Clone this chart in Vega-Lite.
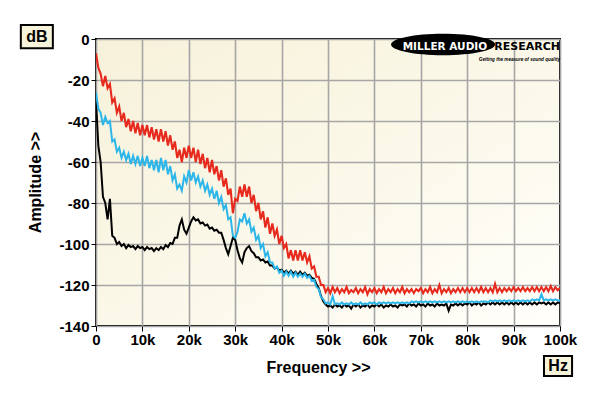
{
"$schema": "https://vega.github.io/schema/vega-lite/v6.json",
"width": 464, "height": 287,
"autosize": {"type": "none"},
"padding": {"left": 96, "top": 39, "right": 40, "bottom": 70},
"background": "white",
"view": {"fill": {"gradient": "linear", "x1": 0, "y1": 0, "x2": 1, "y2": 1, "stops": [{"offset": 0, "color": "#f7f1d9"}, {"offset": 0.5, "color": "#fbf8e9"}, {"offset": 1, "color": "#fffefa"}]}, "stroke": "black", "strokeWidth": 2},
"config": {
  "font": "Liberation Sans",
  "axis": {"labelFont": "Liberation Sans", "labelFontSize": 15, "labelFontWeight": "bold", "labelColor": "black", "titleFont": "Liberation Sans", "titleFontSize": 16, "titleFontWeight": "bold", "titleColor": "black", "tickColor": "black", "tickSize": 5, "tickWidth": 1, "domain": false, "gridColor": "#a6a6a6", "gridWidth": 1.6, "gridOpacity": 1, "labelFlush": false, "labelOverlap": false}
},
"data": {"values": [
{"f":0,"r":-7,"c":-26,"b":-30},
{"f":0.5,"r":-14,"c":-34,"b":-52},
{"f":1,"r":-17,"c":-36,"b":-60},
{"f":1.5,"r":-23,"c":-42,"b":-77},
{"f":2,"r":-18,"c":-38,"b":-80},
{"f":2.5,"r":-24,"c":-41,"b":-88},
{"f":3,"r":-22,"c":-40,"b":-78},
{"f":3.5,"r":-31,"c":-50,"b":-96},
{"f":4,"r":-29,"c":-49,"b":-97},
{"f":4.5,"r":-36,"c":-55,"b":-100},
{"f":5,"r":-33,"c":-53,"b":-99},
{"f":5.5,"r":-40,"c":-58,"b":-101},
{"f":6,"r":-36,"c":-55,"b":-100},
{"f":6.5,"r":-43,"c":-59,"b":-102},
{"f":7,"r":-39,"c":-56,"b":-100.5},
{"f":7.5,"r":-45,"c":-61,"b":-101.5},
{"f":8,"r":-40,"c":-57,"b":-101},
{"f":8.5,"r":-46,"c":-61,"b":-102.5},
{"f":9,"r":-41,"c":-57,"b":-101},
{"f":9.5,"r":-47,"c":-62,"b":-102},
{"f":10,"r":-42,"c":-58,"b":-101.5},
{"f":10.5,"r":-47,"c":-62,"b":-103},
{"f":11,"r":-42,"c":-57,"b":-101.5},
{"f":11.5,"r":-48,"c":-63,"b":-102.5},
{"f":12,"r":-43,"c":-59,"b":-102},
{"f":12.5,"r":-49,"c":-64,"b":-103.5},
{"f":13,"r":-44,"c":-59,"b":-102},
{"f":13.5,"r":-50,"c":-65,"b":-103},
{"f":14,"r":-44,"c":-58,"b":-101.5},
{"f":14.5,"r":-50,"c":-64,"b":-102.5},
{"f":15,"r":-45,"c":-59,"b":-100.5},
{"f":15.5,"r":-52,"c":-66,"b":-101.5},
{"f":16,"r":-47,"c":-62,"b":-99.5},
{"f":16.5,"r":-54,"c":-69,"b":-100},
{"f":17,"r":-50,"c":-66,"b":-97},
{"f":17.5,"r":-58,"c":-73,"b":-97},
{"f":18,"r":-54,"c":-71,"b":-91},
{"f":18.5,"r":-60,"c":-74,"b":-88},
{"f":19,"r":-53,"c":-67,"b":-93},
{"f":19.5,"r":-58,"c":-70,"b":-95},
{"f":20,"r":-52,"c":-64,"b":-92},
{"f":20.5,"r":-58,"c":-69,"b":-89},
{"f":21,"r":-53,"c":-65,"b":-87},
{"f":21.5,"r":-60,"c":-70,"b":-88.5},
{"f":22,"r":-54,"c":-67,"b":-88},
{"f":22.5,"r":-61,"c":-72,"b":-90},
{"f":23,"r":-56,"c":-69,"b":-89.5},
{"f":23.5,"r":-63,"c":-74,"b":-91},
{"f":24,"r":-58,"c":-71,"b":-90.5},
{"f":24.5,"r":-65,"c":-76,"b":-92.5},
{"f":25,"r":-59,"c":-73,"b":-92},
{"f":25.5,"r":-66,"c":-78,"b":-93.5},
{"f":26,"r":-62,"c":-74,"b":-93},
{"f":26.5,"r":-69,"c":-80,"b":-94.5},
{"f":27,"r":-64,"c":-77,"b":-94.5},
{"f":27.5,"r":-72,"c":-83,"b":-98},
{"f":28,"r":-68,"c":-81,"b":-102},
{"f":28.5,"r":-76,"c":-88,"b":-105},
{"f":29,"r":-73,"c":-87,"b":-101},
{"f":29.5,"r":-85,"c":-96,"b":-97},
{"f":30,"r":-78,"c":-97,"b":-98},
{"f":30.5,"r":-79,"c":-94,"b":-103},
{"f":31,"r":-72,"c":-88,"b":-107},
{"f":31.5,"r":-77,"c":-89,"b":-109},
{"f":32,"r":-71,"c":-85,"b":-104},
{"f":32.5,"r":-77,"c":-90,"b":-102},
{"f":33,"r":-72,"c":-88,"b":-101},
{"f":33.5,"r":-80,"c":-94,"b":-103.5},
{"f":34,"r":-76,"c":-92,"b":-104.5},
{"f":34.5,"r":-84,"c":-98,"b":-106.5},
{"f":35,"r":-80,"c":-96,"b":-106.5},
{"f":35.5,"r":-88,"c":-102,"b":-108},
{"f":36,"r":-84,"c":-100,"b":-107.5},
{"f":36.5,"r":-92,"c":-106,"b":-109},
{"f":37,"r":-87,"c":-104,"b":-108.5},
{"f":37.5,"r":-95,"c":-109,"b":-110.5},
{"f":38,"r":-90,"c":-109,"b":-110.5},
{"f":38.5,"r":-96,"c":-112,"b":-112},
{"f":39,"r":-93,"c":-111,"b":-111.5},
{"f":39.5,"r":-100,"c":-114,"b":-113},
{"f":40,"r":-96,"c":-113,"b":-112.5},
{"f":40.5,"r":-102,"c":-115.5,"b":-114},
{"f":41,"r":-100,"c":-113.5,"b":-113},
{"f":41.5,"r":-107,"c":-115.5,"b":-114.5},
{"f":42,"r":-103,"c":-113.5,"b":-113},
{"f":42.5,"r":-108,"c":-116,"b":-114.5},
{"f":43,"r":-103,"c":-114,"b":-113.5},
{"f":43.5,"r":-108,"c":-116,"b":-115},
{"f":44,"r":-103,"c":-114.5,"b":-113.5},
{"f":44.5,"r":-108,"c":-116,"b":-115},
{"f":45,"r":-104,"c":-114.5,"b":-114},
{"f":45.5,"r":-109,"c":-116.5,"b":-115.5},
{"f":46,"r":-106,"c":-115.5,"b":-115},
{"f":46.5,"r":-112,"c":-118,"b":-116.5},
{"f":47,"r":-111,"c":-117.5,"b":-117},
{"f":47.5,"r":-116,"c":-121,"b":-119.5},
{"f":48,"r":-116,"c":-122,"b":-121.5},
{"f":48.5,"r":-120,"c":-126,"b":-125.5},
{"f":49,"r":-120,"c":-127,"b":-128},
{"f":49.5,"r":-123.5,"c":-129,"b":-129.5},
{"f":50,"r":-121.5,"c":-128.5,"b":-130.5},
{"f":50.5,"r":-124,"c":-129.5,"b":-130},
{"f":51,"r":-121,"c":-125.5,"b":-131},
{"f":51.5,"r":-123.5,"c":-129.5,"b":-129.5},
{"f":52,"r":-121.5,"c":-129,"b":-130.5},
{"f":52.5,"r":-124,"c":-129.5,"b":-130},
{"f":53,"r":-122,"c":-128.5,"b":-131},
{"f":53.5,"r":-123.5,"c":-129.5,"b":-129.5},
{"f":54,"r":-121,"c":-129,"b":-130.5},
{"f":54.5,"r":-124,"c":-129.5,"b":-130},
{"f":55,"r":-122.5,"c":-128.5,"b":-131.5},
{"f":55.5,"r":-123.5,"c":-129.5,"b":-129.5},
{"f":56,"r":-121.5,"c":-129,"b":-130.5},
{"f":56.5,"r":-124,"c":-129.5,"b":-129.5},
{"f":57,"r":-122,"c":-128.5,"b":-131},
{"f":57.5,"r":-123.5,"c":-129.5,"b":-130},
{"f":58,"r":-121,"c":-129,"b":-130.5},
{"f":58.5,"r":-124.5,"c":-129.5,"b":-129.5},
{"f":59,"r":-122,"c":-128.5,"b":-131},
{"f":59.5,"r":-123.5,"c":-129,"b":-130},
{"f":60,"r":-121.5,"c":-128.5,"b":-130.5},
{"f":60.5,"r":-124,"c":-129.5,"b":-129.5},
{"f":61,"r":-122,"c":-128.5,"b":-130.5},
{"f":61.5,"r":-123.5,"c":-129,"b":-129.5},
{"f":62,"r":-121,"c":-128.5,"b":-131},
{"f":62.5,"r":-124,"c":-129,"b":-130},
{"f":63,"r":-122,"c":-128.5,"b":-130.5},
{"f":63.5,"r":-123.5,"c":-129,"b":-129.5},
{"f":64,"r":-121.5,"c":-128.5,"b":-130.5},
{"f":64.5,"r":-124,"c":-129,"b":-130},
{"f":65,"r":-122,"c":-128.5,"b":-131},
{"f":65.5,"r":-123.5,"c":-129,"b":-129.5},
{"f":66,"r":-121,"c":-128.5,"b":-130},
{"f":66.5,"r":-124,"c":-129,"b":-129.5},
{"f":67,"r":-122,"c":-128.5,"b":-130.5},
{"f":67.5,"r":-123.5,"c":-129,"b":-129},
{"f":68,"r":-122,"c":-128,"b":-130},
{"f":68.5,"r":-124,"c":-128.5,"b":-129.5},
{"f":69,"r":-122,"c":-128,"b":-130.5},
{"f":69.5,"r":-123,"c":-128.5,"b":-129},
{"f":70,"r":-121.5,"c":-128,"b":-130},
{"f":70.5,"r":-124,"c":-128.5,"b":-129.5},
{"f":71,"r":-122,"c":-128,"b":-130.5},
{"f":71.5,"r":-123.5,"c":-128.5,"b":-129},
{"f":72,"r":-121,"c":-128,"b":-130},
{"f":72.5,"r":-124,"c":-128.5,"b":-129.5},
{"f":73,"r":-122,"c":-128,"b":-130.5},
{"f":73.5,"r":-123.5,"c":-128.5,"b":-129},
{"f":74,"r":-120,"c":-128,"b":-130},
{"f":74.5,"r":-124,"c":-128.5,"b":-129.5},
{"f":75,"r":-122,"c":-128,"b":-130},
{"f":75.5,"r":-123.5,"c":-128.5,"b":-129},
{"f":76,"r":-121.5,"c":-128,"b":-132.5},
{"f":76.5,"r":-124,"c":-128.5,"b":-129.5},
{"f":77,"r":-122,"c":-128,"b":-130},
{"f":77.5,"r":-123.5,"c":-128.5,"b":-129},
{"f":78,"r":-121.5,"c":-128,"b":-130},
{"f":78.5,"r":-123.5,"c":-128.5,"b":-129},
{"f":79,"r":-121.5,"c":-128,"b":-130},
{"f":79.5,"r":-123.5,"c":-128.5,"b":-129},
{"f":80,"r":-121.5,"c":-128,"b":-129.5},
{"f":80.5,"r":-123.5,"c":-128.5,"b":-128.5},
{"f":81,"r":-121.5,"c":-128,"b":-130},
{"f":81.5,"r":-123.5,"c":-128.5,"b":-129},
{"f":82,"r":-121.5,"c":-128,"b":-129.5},
{"f":82.5,"r":-123.5,"c":-128.5,"b":-128.5},
{"f":83,"r":-121,"c":-128,"b":-130},
{"f":83.5,"r":-123.5,"c":-128,"b":-129},
{"f":84,"r":-121.5,"c":-128,"b":-129.5},
{"f":84.5,"r":-123.5,"c":-128.5,"b":-128.5},
{"f":85,"r":-121.5,"c":-127.5,"b":-129.5},
{"f":85.5,"r":-123.5,"c":-128,"b":-128.5},
{"f":86,"r":-119.5,"c":-127.5,"b":-129.5},
{"f":86.5,"r":-123.5,"c":-128,"b":-128.5},
{"f":87,"r":-121.5,"c":-127.5,"b":-129.5},
{"f":87.5,"r":-123.5,"c":-128,"b":-128.5},
{"f":88,"r":-121.5,"c":-127.5,"b":-129.5},
{"f":88.5,"r":-123,"c":-128,"b":-128.5},
{"f":89,"r":-121.5,"c":-127.5,"b":-129.5},
{"f":89.5,"r":-123,"c":-128,"b":-128.5},
{"f":90,"r":-121,"c":-127.5,"b":-129.5},
{"f":90.5,"r":-123,"c":-128,"b":-128.5},
{"f":91,"r":-121.5,"c":-127.5,"b":-129.5},
{"f":91.5,"r":-123,"c":-128,"b":-128.5},
{"f":92,"r":-121,"c":-127.5,"b":-129.5},
{"f":92.5,"r":-123,"c":-128,"b":-128.5},
{"f":93,"r":-121.5,"c":-127.5,"b":-129.5},
{"f":93.5,"r":-123,"c":-128,"b":-128.5},
{"f":94,"r":-121,"c":-127,"b":-129.5},
{"f":94.5,"r":-123,"c":-127.5,"b":-128.5},
{"f":95,"r":-121,"c":-127,"b":-129.5},
{"f":95.5,"r":-123,"c":-127.5,"b":-128.5},
{"f":96,"r":-121,"c":-124.5,"b":-129},
{"f":96.5,"r":-123,"c":-127.5,"b":-128.5},
{"f":97,"r":-121,"c":-127,"b":-129.5},
{"f":97.5,"r":-123,"c":-127.5,"b":-128.5},
{"f":98,"r":-120.5,"c":-127,"b":-129.5},
{"f":98.5,"r":-123,"c":-127.5,"b":-128.5},
{"f":99,"r":-121,"c":-127,"b":-129.5},
{"f":99.5,"r":-122.5,"c":-127.5,"b":-128.5},
{"f":100,"r":-121.5,"c":-127.5,"b":-129}
]},
"layer": [
  {"mark": {"type": "line", "color": "#e62a1e", "strokeWidth": 2.1, "clip": true},
   "encoding": {
     "x": {"field": "f", "type": "quantitative", "scale": {"domain": [0, 100], "nice": false, "zero": false},
           "axis": {"values": [0,10,20,30,40,50,60,70,80,90,100], "labelExpr": "datum.value == 0 ? '0' : datum.value + 'k'", "labelPadding": 1, "title": "Frequency >>", "titleX": 222, "titleY": 46, "titleAlign": "center", "titleBaseline": "alphabetic"}},
     "y": {"field": "r", "type": "quantitative", "scale": {"domain": [-140, 0], "nice": false, "zero": false},
           "axis": {"values": [0,-20,-40,-60,-80,-100,-120,-140], "labelExpr": "datum.value == 0 ? '0' : '-' + (-datum.value)", "labelPadding": 2, "title": "Amplitude >>", "titleX": -61, "titleY": 143, "titleAlign": "center", "titleAngle": 270, "titleBaseline": "middle"}}
   }},
  {"mark": {"type": "line", "color": "#000000", "strokeWidth": 2, "clip": true},
   "encoding": {"x": {"field": "f", "type": "quantitative"}, "y": {"field": "b", "type": "quantitative"}}},
  {"mark": {"type": "line", "color": "#2cb6ea", "strokeWidth": 2, "clip": true},
   "encoding": {"x": {"field": "f", "type": "quantitative"}, "y": {"field": "c", "type": "quantitative"}}},
  {"data": {"values": [{}]},
   "mark": {"type": "point", "shape": "M-1,0C-1,-0.114,-0.552,-0.206,0,-0.206C0.552,-0.206,1,-0.114,1,0C1,0.114,0.552,0.206,0,0.206C-0.552,0.206,-1,0.114,-1,0Z", "filled": true, "fill": "black", "strokeWidth": 0, "opacity": 1, "fillOpacity": 1, "size": 10816},
   "encoding": {"x": {"datum": 74.8}, "y": {"datum": -2.7}}},
  {"data": {"values": [{}]},
   "mark": {"type": "text", "text": "MILLER AUDIO", "font": "DejaVu Sans", "fontWeight": "bold", "fontSize": 10.5, "color": "white", "align": "center", "baseline": "alphabetic"},
   "encoding": {"x": {"datum": 75.2}, "y": {"datum": -5.3}}},
  {"data": {"values": [{}]},
   "mark": {"type": "text", "text": "RESEARCH", "font": "DejaVu Sans", "fontWeight": "bold", "fontSize": 11, "color": "black", "align": "right", "baseline": "alphabetic"},
   "encoding": {"x": {"datum": 100}, "y": {"datum": -5.4}}},
  {"data": {"values": [{}]},
   "mark": {"type": "text", "text": "Getting the measure of sound quality", "font": "Liberation Sans", "fontWeight": "bold", "fontStyle": "italic", "fontSize": 4.6, "color": "black", "align": "right", "baseline": "alphabetic"},
   "encoding": {"x": {"datum": 100}, "y": {"datum": -10.6}}},
  {"data": {"values": [{}]},
   "mark": {"type": "rect", "fill": "#f7f3da", "stroke": "black", "strokeWidth": 2},
   "encoding": {"x": {"datum": -16.2}, "x2": {"datum": -9.3}, "y": {"datum": 6.8}, "y2": {"datum": -4.5}}},
  {"data": {"values": [{}]},
   "mark": {"type": "text", "text": "dB", "font": "Liberation Sans", "fontWeight": "bold", "fontSize": 16, "color": "black", "align": "center", "baseline": "middle"},
   "encoding": {"x": {"datum": -12.75}, "y": {"datum": 1.0}}},
  {"data": {"values": [{}]},
   "mark": {"type": "rect", "fill": "#f7f3da", "stroke": "black", "strokeWidth": 2},
   "encoding": {"x": {"datum": 96.55}, "x2": {"datum": 102.6}, "y": {"datum": -154.6}, "y2": {"datum": -164.4}}},
  {"data": {"values": [{}]},
   "mark": {"type": "text", "text": "Hz", "font": "Liberation Sans", "fontWeight": "bold", "fontSize": 16, "color": "black", "align": "center", "baseline": "middle"},
   "encoding": {"x": {"datum": 99.6}, "y": {"datum": -159.7}}}
]
}
